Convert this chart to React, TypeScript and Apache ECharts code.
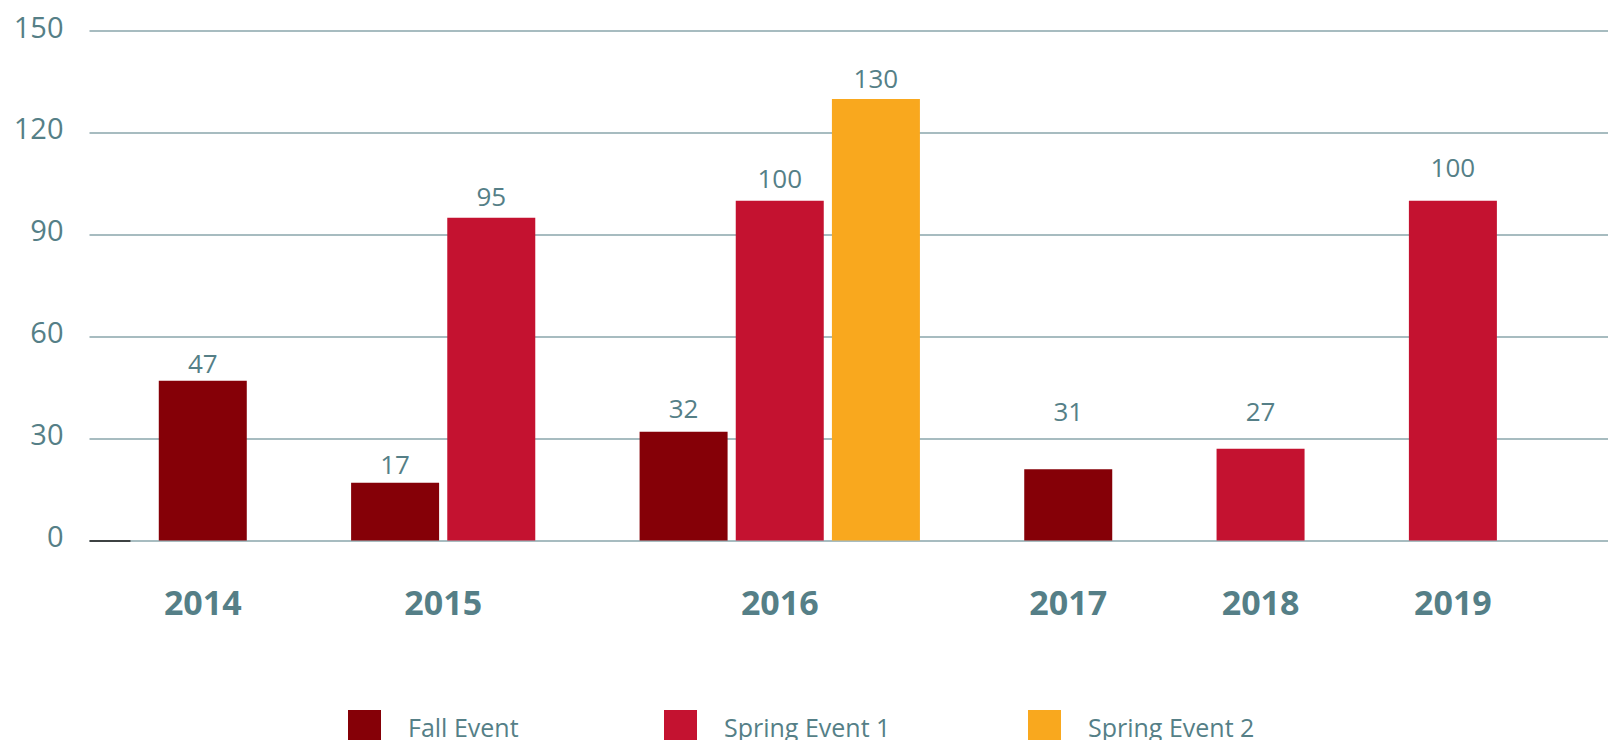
import React, { useEffect, useRef } from "react";
import * as echarts from "echarts";

// ---- data ----
const years = ["2014", "2015", "2016", "2017", "2018", "2019"];
const seriesNames = ["Fall Event", "Spring Event 1", "Spring Event 2"];
const fallEvent = [47, 17, 32, 21, null, null];
const springEvent1 = [null, 95, 100, null, 27, 100];
const springEvent2 = [null, null, 130, null, null, null];
// values printed above the bars (the 2017 label reads 31 in the source)
const fallLabels = [47, 17, 32, 31, null, null];
const spring1Labels = [null, 95, 100, null, 27, 100];
const spring2Labels = [null, null, 130, null, null, null];
const yTicks = [0, 30, 60, 90, 120, 150];

// ---- styling ----
const COLORS = ["#850007", "#C41230", "#F9A81E"];
const TEXT = "#557f87";
const GRID = "#8aa6ab";
const FONT = "'Open Sans', 'Noto Sans', sans-serif";
// label lift above bar top (px) per series per year
const labelDistances = [
  [5, 6, 11, 45, 0, 0],
  [0, 9, 10, 0, 25, 21],
  [0, 0, 8, 0, 0, 0],
];

const X_MIN = -1.178;
const X_MAX = 14.613;

export default function App() {
  const ref = useRef<HTMLDivElement>(null);

  useEffect(() => {
    if (!ref.current) return;
    const chart = echarts.init(ref.current, undefined, { renderer: "svg" });

    const values = [fallEvent, springEvent1, springEvent2];
    const labels = [fallLabels, spring1Labels, spring2Labels];

    // layout: bars of a year side by side, one empty slot between years
    let cursor = 0;
    const groupCenters: number[] = [];
    const positions: (number | null)[][] = values.map(() => []);
    years.forEach((_, i) => {
      let k = 0;
      values.forEach((v, s) => {
        positions[s][i] = v[i] != null ? cursor + k++ : null;
      });
      groupCenters.push(cursor + (k - 1) / 2);
      cursor += k + 1;
    });

    const series = seriesNames.map((name, s) => {
      const data: any[] = [];
      years.forEach((_, i) => {
        const v = values[s][i];
        if (v == null) return;
        data.push({
          value: [positions[s][i], v],
          label: {
            formatter: String(labels[s][i]),
            distance: labelDistances[s][i],
          },
        });
      });
      const ser: any = {
        name,
        type: "bar",
        barWidth: 88,
        barGap: "-100%",
        itemStyle: { color: COLORS[s] },
        label: {
          show: true,
          position: "top",
          color: TEXT,
          fontSize: 26,
          fontFamily: FONT,
        },
        data,
      };
      if (s === 0) {
        ser.markLine = {
          silent: true,
          symbol: "none",
          label: { show: false },
          lineStyle: { color: "#1a1a1a", width: 1.5, type: "solid" },
          data: [[{ coord: [X_MIN, 0] }, { coord: [X_MIN + 0.426, 0] }]],
        };
      }
      return ser;
    });

    const legendCommon = {
      top: 705,
      icon: "rect",
      itemWidth: 33,
      itemHeight: 33,
      itemGap: 0,
      selectedMode: false,
      textStyle: {
        color: TEXT,
        fontSize: 25,
        fontFamily: FONT,
        padding: [0, 0, 0, 22],
      },
    };

    chart.setOption({
      animation: false,
      backgroundColor: "#ffffff",
      grid: {
        left: 89.5,
        right: 0,
        top: 31,
        bottom: 199.5,
        containLabel: false,
        outerBoundsMode: "none",
      },
      legend: [
        { ...legendCommon, left: 343, data: [seriesNames[0]] },
        { ...legendCommon, left: 659, data: [seriesNames[1]] },
        { ...legendCommon, left: 1023, data: [seriesNames[2]] },
      ],
      xAxis: {
        type: "value",
        min: X_MIN,
        max: X_MAX,
        axisLine: { show: false },
        axisTick: { show: false },
        splitLine: { show: false },
        axisLabel: {
          customValues: groupCenters,
          formatter: (val: number) => {
            const idx = groupCenters.findIndex((c) => Math.abs(c - val) < 1e-6);
            return idx >= 0 ? years[idx] : "";
          },
          color: TEXT,
          fontSize: 34,
          fontWeight: "bold",
          fontFamily: FONT,
          margin: 44,
        },
      },
      yAxis: {
        type: "value",
        min: yTicks[0],
        max: yTicks[yTicks.length - 1],
        interval: 30,
        axisLine: { show: false },
        axisTick: { show: false },
        axisLabel: {
          color: TEXT,
          fontSize: 29,
          fontFamily: FONT,
          margin: 26,
          verticalAlign: "bottom",
          lineHeight: 10,
        },
        splitLine: { lineStyle: { color: GRID, width: 1.5 } },
      },
      series,
    });

    return () => chart.dispose();
  }, []);

  return (
    <div
      ref={ref}
      style={{ position: "fixed", left: 0, top: 0, width: 1608, height: 740 }}
    />
  );
}
